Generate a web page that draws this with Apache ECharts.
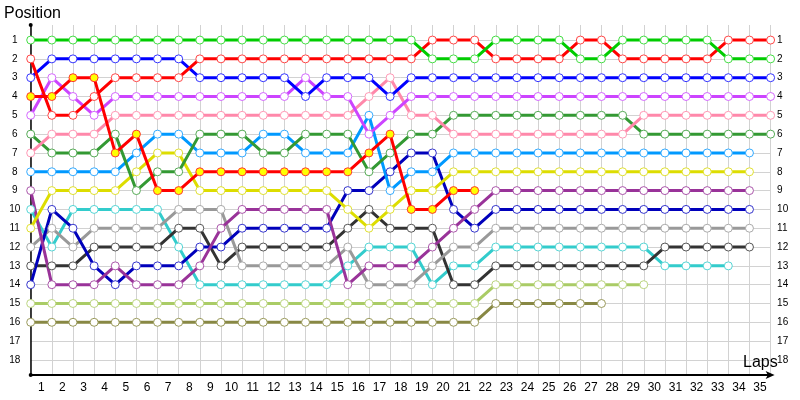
<!DOCTYPE html>
<html>
<head>
<meta charset="utf-8">
<script src="https://cdn.jsdelivr.net/npm/echarts@6/dist/echarts.min.js"></script>
<style>html,body{margin:0;padding:0;background:#fff}#c{width:800px;height:400px}</style>
</head>
<body>
<div id="c"></div>
<script>
// Laps are indexed from 0 (start) to 35
const lapLabels = ['1','2','3','4','5','6','7','8','9','10','11','12','13','14','15','16','17','18','19','20','21','22','23','24','25','26','27','28','29','30','31','32','33','34','35'];
const positionLabels = [1,2,3,4,5,6,7,8,9,10,11,12,13,14,15,16,17,18];

const green     = [1,1,1,1,1,1,1,1,1,1,1,1,1,1,1,1,1,1,1,2,2,2,1,1,1,1,2,2,1,1,1,1,1,2,2,2];
const red       = [2,5,5,4,3,3,3,3,2,2,2,2,2,2,2,2,2,2,2,1,1,1,2,2,2,2,1,1,2,2,2,2,2,1,1,1];
const blue      = [3,2,2,2,2,2,2,2,3,3,3,3,3,4,3,3,3,4,3,3,3,3,3,3,3,3,3,3,3,3,3,3,3,3,3,3];
const violet    = [5,3,4,5,4,4,4,4,4,4,4,4,4,3,4,4,6,5,4,4,4,4,4,4,4,4,4,4,4,4,4,4,4,4,4,4];
const pink      = [7,6,6,6,5,5,5,5,5,5,5,5,5,5,5,5,4,3,5,5,6,6,6,6,6,6,6,6,6,5,5,5,5,5,5,5];
const darkGreen = [6,7,7,7,6,9,8,8,6,6,6,7,7,6,6,6,8,7,6,6,5,5,5,5,5,5,5,5,5,6,6,6,6,6,6,6];
const lightBlue = [8,8,8,8,8,7,6,6,7,7,7,6,6,7,7,7,5,9,8,8,7,7,7,7,7,7,7,7,7,7,7,7,7,7,7];
const yellow    = [11,9,9,9,9,8,7,7,9,9,9,9,9,9,9,10,11,10,9,9,8,8,8,8,8,8,8,8,8,8,8,8,8,8,8];
const redYellow = [4,4,3,3,7,6,9,9,8,8,8,8,8,8,8,8,7,6,10,10,9,9];
const purple    = [9,14,14,14,13,14,14,14,13,11,10,10,10,10,10,14,13,13,13,12,11,10,9,9,9,9,9,9,9,9,9,9,9,9,9];
const darkBlue  = [14,10,11,13,14,13,13,13,12,12,11,11,11,11,11,9,9,8,7,7,10,11,10,10,10,10,10,10,10,10,10,10,10,10,10];
const gray      = [12,11,12,11,11,11,11,10,10,10,13,13,13,13,13,12,14,14,14,13,12,12,11,11,11,11,11,11,11,11,11,11,11,11,11];
const black     = [13,13,13,12,12,12,12,11,11,13,12,12,12,12,12,11,10,11,11,11,14,14,13,13,13,13,13,13,13,13,12,12,12,12,12];
const cyan      = [10,12,10,10,10,10,10,12,14,14,14,14,14,14,14,13,12,12,12,14,13,13,12,12,12,12,12,12,12,12,13,13,13,13];
const lightGreen= [15,15,15,15,15,15,15,15,15,15,15,15,15,15,15,15,15,15,15,15,15,15,14,14,14,14,14,14,14,14];
const olive     = [16,16,16,16,16,16,16,16,16,16,16,16,16,16,16,16,16,16,16,16,16,16,15,15,15,15,15,15];

const seriesDefs = [
  {name:'olive', data: olive, line:'#888844', border:'#99995a', fill:'#fff'},
  {name:'lightGreen', data: lightGreen, line:'#aacc66', border:'#bbd57f', fill:'#fff'},
  {name:'cyan', data: cyan, line:'#33cccc', border:'#55d5d5', fill:'#fff'},
  {name:'black', data: black, line:'#333333', border:'#555555', fill:'#fff'},
  {name:'gray', data: gray, line:'#999999', border:'#aaaaaa', fill:'#fff'},
  {name:'darkBlue', data: darkBlue, line:'#0000bb', border:'#3333cc', fill:'#fff'},
  {name:'purple', data: purple, line:'#993399', border:'#aa55aa', fill:'#fff'},
  {name:'yellow', data: yellow, line:'#dddd00', border:'#e0e030', fill:'#fff'},
  {name:'lightBlue', data: lightBlue, line:'#0099ff', border:'#33aaff', fill:'#fff'},
  {name:'darkGreen', data: darkGreen, line:'#339933', border:'#55aa55', fill:'#fff'},
  {name:'pink', data: pink, line:'#ff88aa', border:'#ff99b5', fill:'#fff'},
  {name:'violet', data: violet, line:'#cc44ff', border:'#d466ff', fill:'#fff'},
  {name:'redYellow', data: redYellow, line:'#ff0000', border:'#ff3333', fill:'#ffff00'},
  {name:'blue', data: blue, line:'#0000ff', border:'#3333ff', fill:'#fff'},
  {name:'red', data: red, line:'#ff0000', border:'#ff4444', fill:'#fff'},
  {name:'green', data: green, line:'#00cc00', border:'#44dd44', fill:'#fff'}
];

const xLabelValues = lapLabels.map((_, i) => i + 0.5);
const font = 'Liberation Sans, Arial, sans-serif';

const chart = echarts.init(document.getElementById('c'), null, {renderer:'canvas'});
chart.setOption({
  animation: false,
  title: [
    {text:'Position', left:4, top:6, padding:0, textStyle:{fontSize:16, fontWeight:'normal', color:'#000', fontFamily:font}},
    {text:'Laps', left:743, top:355, padding:0, textStyle:{fontSize:16, fontWeight:'normal', color:'#000', fontFamily:font}}
  ],
  grid: {left:30.7, right:29.4, top:25, bottom:25, containLabel:false},
  xAxis: [{
    type:'value', min:0, max:35, interval:1,
    axisLine:{show:true, onZero:false, lineStyle:{color:'#000', width:2}, symbol:['none','arrow'], symbolSize:[6,9], symbolOffset:[0,4]},
    axisTick:{show:false},
    splitLine:{show:true, lineStyle:{color:'#d2d2d2', width:1}},
    axisLabel:{customValues: xLabelValues, formatter: v => lapLabels[Math.floor(v)], fontSize:12, color:'#000', margin:7, fontFamily:font}
  }],
  yAxis: [{
    type:'value', inverse:true, min:0.2, max:18.8, position:'left',
    axisLine:{show:true, onZero:false, lineStyle:{color:'#000', width:1.5}, symbol:['circle','circle'], symbolSize:[4,4]},
    axisTick:{show:false, customValues: positionLabels},
    splitLine:{show:true, lineStyle:{color:'#d2d2d2', width:1}},
    axisLabel:{customValues: positionLabels, fontSize:10, color:'#000', margin:16, align:'center', fontFamily:font}
  },{
    type:'value', inverse:true, min:0.2, max:18.8, position:'right',
    axisLine:{show:false}, axisTick:{show:false, customValues: positionLabels},
    splitLine:{show:false},
    axisLabel:{customValues: positionLabels, fontSize:10, color:'#000', margin:6.5, align:'left', fontFamily:font}
  }],
  series: seriesDefs.map(s => ({
    type:'line', name:s.name, xAxisIndex:0, yAxisIndex:0,
    data: s.data.map((p, lap) => [lap, p]),
    symbol:'circle', symbolSize:8, showAllSymbol:true,
    lineStyle:{color:s.line, width:3},
    itemStyle:{color:s.fill, borderColor:s.border, borderWidth:1},
    emphasis:{disabled:true}
  }))
});
</script>
</body>
</html>
